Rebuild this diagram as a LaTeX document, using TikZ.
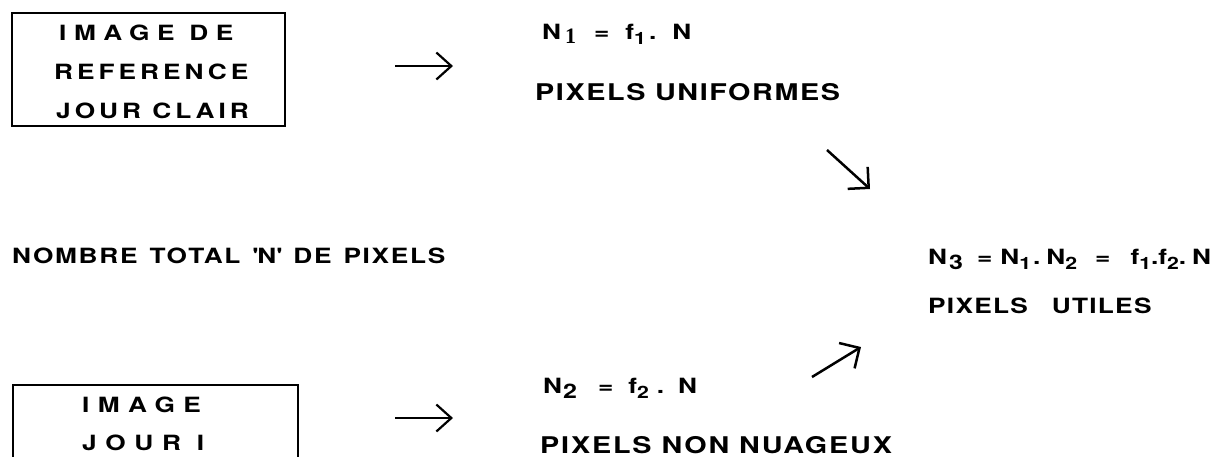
\documentclass[tikz,border=0pt]{standalone}
\usepackage{fontspec}
\setmainfont{TeX Gyre Heros}[FakeStretch=1.25]
\newfontfamily\serifdigit{Liberation Serif}
\usetikzlibrary{arrows.meta}
\newcommand{\lsp}[2]{{\addfontfeatures{LetterSpace=#1}#2}}
\newcommand{\subd}[1]{\raisebox{-5pt}{\fontsize{17}{17}\selectfont #1}}
\newcommand{\bigsub}[1]{\raisebox{-5pt}{\fontsize{20}{20}\selectfont #1}}
\tikzset{
  txt/.style={anchor=base west, inner sep=0pt, font=\fontsize{21}{39}\selectfont\bfseries},
  bigtxt/.style={txt, font=\fontsize{23}{39}\selectfont\bfseries},
  frame/.style={line width=1.3pt},
  rarrow/.style={line width=2.2pt, -{Straight Barb[length=15pt,width=27pt,line width=2.2pt]}},
  darrow/.style={line width=2.5pt, -{Straight Barb[angle=90:21pt,line width=2.5pt]}}
}
\begin{document}
\begin{tikzpicture}[x=1pt,y=-1pt]
\useasboundingbox[fill=white] (0,0) rectangle (1219,456);
% box 1
\coordinate (b1a) at (12,13);
\coordinate (b1b) at (285,126);
\draw[frame] (b1a) rectangle (b1b);
\node[txt] (t1a) at (59,40) {\lsp{36}{IMAGE DE}};
\node[txt] (t1b) at (54,79) {\lsp{19}{REFERENCE}};
\node[txt] (t1c) at (56,118) {\lsp{19}{JOUR CLAIR}};
% box 2 (open at the bottom edge of the picture)
\coordinate (b2a) at (13,457);
\coordinate (b2b) at (13,385);
\coordinate (b2c) at (298,385);
\coordinate (b2d) at (298,457);
\draw[frame] (b2a) -- (b2b) -- (b2c) -- (b2d);
\node[txt] (t2a) at (82,412) {\lsp{40}{IMAGE}};
\node[txt] (t2b) at (82,450) {\lsp{41}{JOUR I}};
% horizontal arrows
\coordinate (a1s) at (395,66);
\coordinate (a1e) at (453,66);
\draw[rarrow] (a1s) -- (a1e);
\coordinate (a2s) at (395,418);
\coordinate (a2e) at (453,418);
\draw[rarrow] (a2s) -- (a2e);
% top right texts
\node[txt] (n1) at (542,39) {N\hspace{4pt}{\serifdigit\raisebox{-4pt}{\fontsize{22}{22}\selectfont 1}}\hspace{18pt}=\hspace{16pt}f\subd{1}\hspace{3pt}.\hspace{16pt}N};
\node[bigtxt] (u1) at (535,100) {\lsp{7}{PIXELS UNIFORMES}};
% middle
\node[txt] (tot) at (12,263) {\lsp{8}{NOMBRE\hspace{12pt}TOTAL\hspace{12pt}\textquotesingle N\textquotesingle\hspace{12pt}DE\hspace{12pt}PIXELS}};
\node[txt] (n3) at (928,264) {N\hspace{2pt}\bigsub{3}\hspace{14pt}=\hspace{8pt}N\subd{1}\hspace{2pt}.\hspace{6pt}N\subd{2}\hspace{18pt}=\hspace{20pt}f\subd{1}.f\subd{2}.\hspace{6pt}N};
\node[txt] (u3) at (928,313) {\lsp{6}{PIXELS\hspace{24pt}UTILES}};
% bottom
\node[txt] (n2) at (543,393) {N\hspace{1pt}\bigsub{2}\hspace{21pt}=\hspace{15pt}f\subd{2}\hspace{8pt}.\hspace{14pt}N};
\node[bigtxt] (u2) at (540,453) {\lsp{8}{PIXELS NON NUAGEUX}};
% diagonal arrows
\coordinate (d1s) at (827,150);
\coordinate (d1e) at (870,189);
\draw[darrow] (d1s) -- (d1e);
\coordinate (d2s) at (812,377);
\coordinate (d2e) at (861,347);
\draw[darrow] (d2s) -- (d2e);
\end{tikzpicture}
\end{document}
